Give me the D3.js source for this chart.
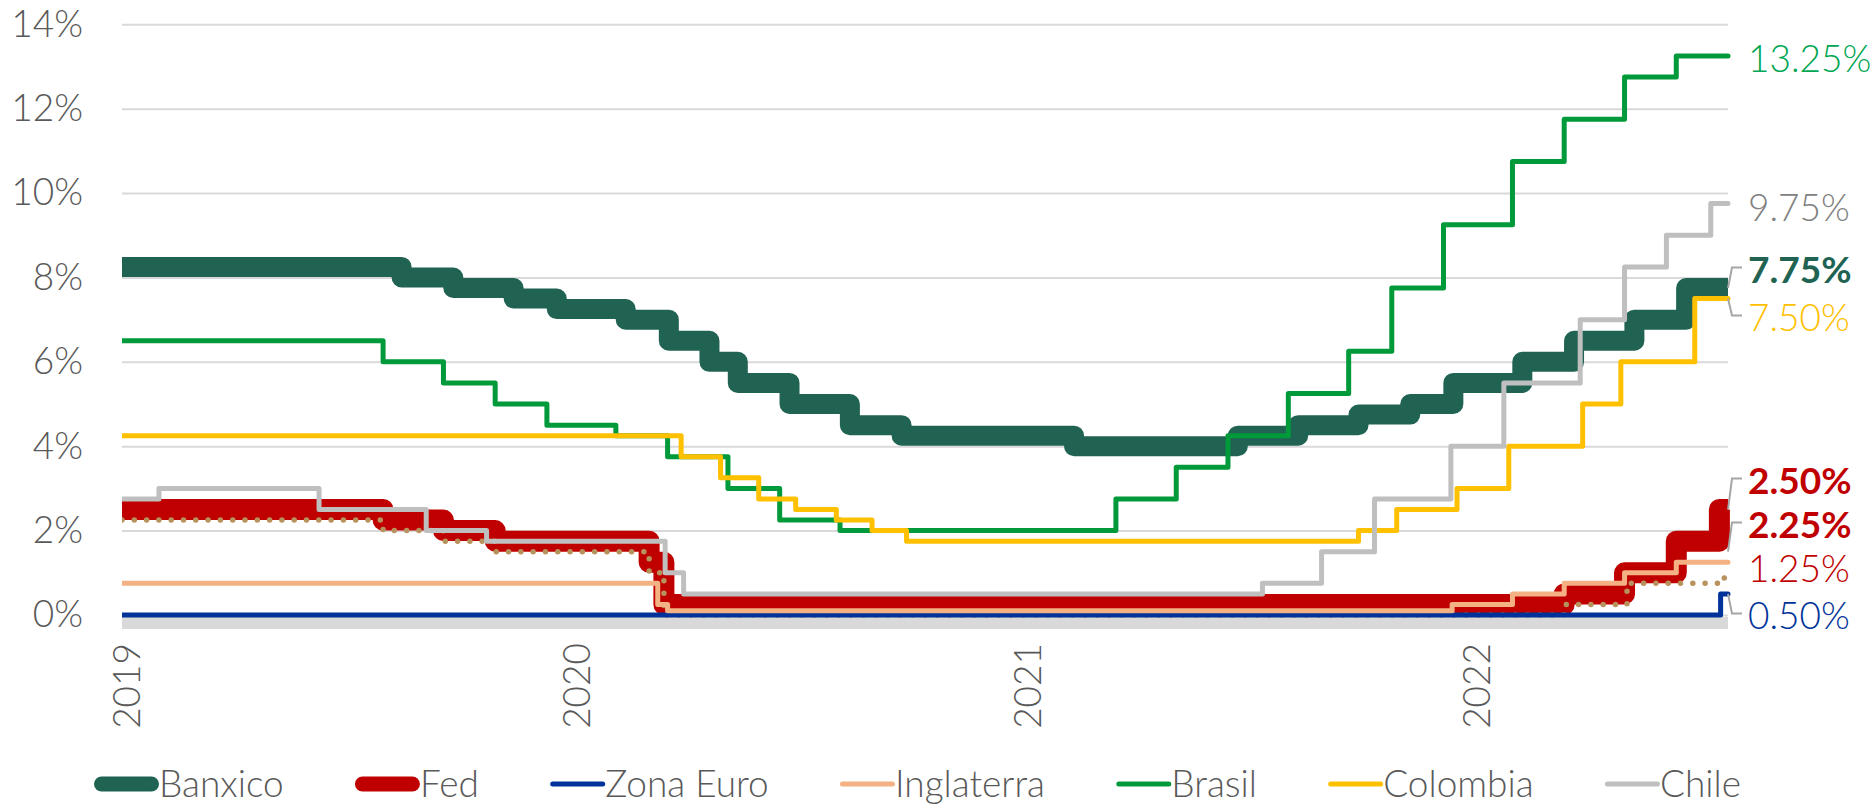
<!DOCTYPE html>
<html>
<head>
<meta charset="utf-8">
<script src="https://cdn.jsdelivr.net/npm/d3@7"></script>
<style>
  html, body { margin: 0; padding: 0; background: #fff; }
  svg { display: block; font-family: Lato, "Open Sans", sans-serif; }
</style>
</head>
<body>
<svg id="chart" width="1872" height="808"></svg>
<script>
// Tasas de politica monetaria (%), fecha de cada cambio
var startDate = "2019-01-01";
var endDate = "2022-07-28";
var yearTicks = ["2019-01-01", "2020-01-01", "2021-01-01", "2022-01-01"];
var yTicks = [0, 2, 4, 6, 8, 10, 12, 14];
var seriesNames = ["Banxico", "Fed", "Zona Euro", "Inglaterra", "Brasil", "Colombia", "Chile"];

var banxico = [
    ["2019-01-01", 8.25], ["2019-08-16", 8.00], ["2019-09-27", 7.75], ["2019-11-15", 7.50],
    ["2019-12-20", 7.25], ["2020-02-14", 7.00], ["2020-03-20", 6.50], ["2020-04-22", 6.00],
    ["2020-05-15", 5.50], ["2020-06-26", 5.00], ["2020-08-14", 4.50], ["2020-09-25", 4.25],
    ["2021-02-12", 4.00], ["2021-06-25", 4.25], ["2021-08-13", 4.50], ["2021-10-01", 4.75],
    ["2021-11-12", 5.00], ["2021-12-17", 5.50], ["2022-02-11", 6.00], ["2022-03-25", 6.50],
    ["2022-05-13", 7.00], ["2022-06-24", 7.75]
];
// Fed: limite superior (linea gruesa) y limite inferior (punteada)
var fedUpper = [
    ["2019-01-01", 2.50], ["2019-08-01", 2.25], ["2019-09-19", 2.00], ["2019-10-31", 1.75],
    ["2020-03-04", 1.25], ["2020-03-16", 0.25], ["2022-03-17", 0.50], ["2022-05-05", 1.00],
    ["2022-06-16", 1.75], ["2022-07-21", 2.50]
];
var fedLower = [
    ["2019-01-01", 2.25], ["2019-08-01", 2.00], ["2019-09-19", 1.75], ["2019-10-31", 1.50],
    ["2020-03-04", 1.00], ["2020-03-16", 0.00], ["2022-03-17", 0.25], ["2022-05-07", 0.75],
    ["2022-07-25", 1.00]
];
var zonaEuro = [["2019-01-01", 0.00], ["2022-07-22", 0.50]];
var inglaterra = [
    ["2019-01-01", 0.75], ["2020-03-11", 0.25], ["2020-03-19", 0.10], ["2021-12-16", 0.25],
    ["2022-02-03", 0.50], ["2022-03-17", 0.75], ["2022-05-05", 1.00], ["2022-06-16", 1.25]
];
var brasil = [
    ["2019-01-01", 6.50], ["2019-08-01", 6.00], ["2019-09-19", 5.50], ["2019-10-31", 5.00],
    ["2019-12-12", 4.50], ["2020-02-06", 4.25], ["2020-03-19", 3.75], ["2020-05-07", 3.00],
    ["2020-06-18", 2.25], ["2020-08-06", 2.00], ["2021-03-18", 2.75], ["2021-05-06", 3.50],
    ["2021-06-17", 4.25], ["2021-08-05", 5.25], ["2021-09-23", 6.25], ["2021-10-28", 7.75],
    ["2021-12-09", 9.25], ["2022-02-03", 10.75], ["2022-03-17", 11.75], ["2022-05-05", 12.75],
    ["2022-06-16", 13.25]
];
var colombia = [
    ["2019-01-01", 4.25], ["2020-03-30", 3.75], ["2020-05-01", 3.25], ["2020-06-01", 2.75],
    ["2020-07-01", 2.50], ["2020-08-03", 2.25], ["2020-09-01", 2.00], ["2020-09-29", 1.75],
    ["2021-10-01", 2.00], ["2021-11-01", 2.50], ["2021-12-20", 3.00], ["2022-01-31", 4.00],
    ["2022-04-01", 5.00], ["2022-05-02", 6.00], ["2022-07-01", 7.50]
];
var chile = [
    ["2019-01-01", 2.75], ["2019-01-31", 3.00], ["2019-06-10", 2.50], ["2019-09-05", 2.00],
    ["2019-10-24", 1.75], ["2020-03-17", 1.00], ["2020-04-01", 0.50], ["2021-07-15", 0.75],
    ["2021-09-01", 1.50], ["2021-10-14", 2.75], ["2021-12-15", 4.00], ["2022-01-27", 5.50],
    ["2022-03-30", 7.00], ["2022-05-05", 8.25], ["2022-06-08", 9.00], ["2022-07-14", 9.75]
];

// etiquetas al final de las lineas (value = punto al que apunta)
var endLabels = [
    { text: "13.25%", value: 13.25, shift: 3.5, color: "#00A651", bold: false, leader: false },
    { text: "9.75%", value: 9.75, shift: 4, color: "#808080", bold: false, leader: false },
    { text: "7.75%", value: 7.75, shift: -18, color: "#216353", bold: true, leader: true },
    { text: "7.50%", value: 7.50, shift: 19.5, color: "#FFC000", bold: false, leader: true },
    { text: "2.50%", value: 2.50, shift: -28.5, color: "#C00000", bold: true, leader: true },
    { text: "2.25%", value: 1.50, shift: -26.7, color: "#C00000", bold: true, leader: true },
    { text: "1.25%", value: 1.25, shift: 6.7, color: "#C00000", bold: false, leader: false },
    { text: "0.50%", value: 0.50, shift: 22, color: "#003399", bold: false, leader: true }
];

var parse = d3.timeParse("%Y-%m-%d");
var svg = d3.select("#chart");
var textColor = "#595959";
var fontSize = "37px";

var x = d3.scaleTime().domain([parse(startDate), parse(endDate)]).range([122, 1728]);
var y = d3.scaleLinear().domain([0, 14]).range([615, 24.3]);

// gridlines
svg.append("g")
    .attr("transform", "translate(" + x.range()[0] + ",0)")
    .call(d3.axisRight(y).tickValues(yTicks).tickSize(x.range()[1] - x.range()[0]).tickFormat(""))
    .call(function(g) { g.select(".domain").remove(); })
    .selectAll("line").attr("stroke", "#D9D9D9").attr("stroke-width", 2);

// y axis labels
svg.append("g")
    .attr("transform", "translate(86,0)")
    .call(d3.axisLeft(y).tickValues(yTicks).tickSize(0).tickPadding(3).tickFormat(function(d) { return d + "%"; }))
    .call(function(g) { g.select(".domain").remove(); })
    .selectAll("text")
    .attr("fill", textColor).style("font-size", fontSize).style("font-weight", 300)
    .style("font-family", "Lato, 'Open Sans', sans-serif");

// base band under 0%
svg.append("line")
    .attr("x1", x.range()[0]).attr("x2", x.range()[1])
    .attr("y1", y(0) + 8).attr("y2", y(0) + 8)
    .attr("stroke", "#D9D9D9").attr("stroke-width", 12);

// x axis labels
svg.append("g")
    .attr("transform", "translate(0,643)")
    .call(d3.axisBottom(x).tickValues(yearTicks.map(parse)).tickSize(0).tickFormat(d3.timeFormat("%Y")))
    .call(function(g) { g.select(".domain").remove(); })
    .selectAll("text")
    .attr("transform", "rotate(-90)")
    .attr("x", 0).attr("y", 5).attr("dy", "0.35em")
    .style("text-anchor", "end")
    .attr("fill", textColor).style("font-size", fontSize).style("font-weight", 300)
    .style("font-family", "Lato, 'Open Sans', sans-serif");

// lines
svg.append("clipPath").attr("id", "clip")
    .append("rect").attr("x", x.range()[0]).attr("y", 0).attr("width", 1872 - x.range()[0]).attr("height", 808);

function toPoints(arr) {
    var pts = arr.map(function(d) { return { date: parse(d[0]), value: d[1] }; });
    pts.push({ date: parse(endDate), value: arr[arr.length - 1][1] });
    return pts;
}

var line = d3.line()
    .x(function(d) { return x(d.date); })
    .y(function(d) { return y(d.value); })
    .curve(d3.curveStepAfter);

var series = [
    { name: "Banxico", data: banxico, color: "#216353", width: 20, cap: "butt" },
    { name: "Fed", data: fedUpper, color: "#C00000", width: 21, cap: "butt" },
    { name: null, data: fedLower, color: "#B8925C", width: 5.5, cap: "round", dash: "0 12.3" },
    { name: "Zona Euro", data: zonaEuro, color: "#003399", width: 5, cap: "round" },
    { name: "Inglaterra", data: inglaterra, color: "#F4B183", width: 5, cap: "round" },
    { name: "Brasil", data: brasil, color: "#009A3A", width: 5, cap: "round" },
    { name: "Colombia", data: colombia, color: "#FFC000", width: 5, cap: "round" },
    { name: "Chile", data: chile, color: "#BFBFBF", width: 5, cap: "round" }
];

var plot = svg.append("g").attr("clip-path", "url(#clip)");
series.forEach(function(s) {
    plot.append("path")
        .datum(toPoints(s.data))
        .attr("d", line)
        .attr("fill", "none")
        .attr("stroke", s.color)
        .attr("stroke-width", s.width)
        .attr("stroke-linejoin", "round")
        .attr("stroke-linecap", s.cap)
        .attr("stroke-dasharray", s.dash || null);
});

// end labels and leaders
var xr = x.range()[1];
var leader = d3.line();
endLabels.forEach(function(l) {
    var ly = y(l.value) + l.shift;
    if (l.leader) {
        svg.append("path")
            .attr("d", leader([[xr + 14, ly - 2.5], [xr + 4, ly - 2.5], [xr, y(l.value)]]))
            .attr("fill", "none").attr("stroke", "#A6A6A6").attr("stroke-width", 2);
    }
    svg.append("text")
        .attr("x", xr + 20).attr("y", ly).attr("dy", "0.35em")
        .attr("fill", l.color)
        .style("font-size", fontSize)
        .style("font-weight", l.bold ? 700 : 300)
        .text(l.text);
});

// legend, spread between the reference's outer edges
var legendStyle = {
    "Banxico": { color: "#216353", width: 15 },
    "Fed": { color: "#C00000", width: 15 },
    "Zona Euro": { color: "#003399", width: 5 },
    "Inglaterra": { color: "#F4B183", width: 5 },
    "Brasil": { color: "#009A3A", width: 5 },
    "Colombia": { color: "#FFC000", width: 5 },
    "Chile": { color: "#BFBFBF", width: 5 }
};
var legendLeft = 94, legendRight = 1741, legendY = 784, swatchLen = 50;
var legend = svg.append("g");
var items = seriesNames.map(function(name) {
    var st = legendStyle[name];
    var g = legend.append("g");
    g.append("line")
        .attr("x1", st.width / 2).attr("x2", st.width / 2 + swatchLen)
        .attr("y1", legendY).attr("y2", legendY)
        .attr("stroke", st.color).attr("stroke-width", st.width)
        .attr("stroke-linecap", "round");
    var t = g.append("text")
        .attr("x", st.width + swatchLen).attr("y", legendY).attr("dy", "0.35em")
        .attr("fill", textColor)
        .style("font-size", fontSize).style("font-weight", 300)
        .text(name);
    return { g: g, w: st.width + swatchLen + t.node().getComputedTextLength() };
});
var totalW = d3.sum(items, function(d) { return d.w; });
var gap = (legendRight - legendLeft - totalW) / (items.length - 1);
var cursor = legendLeft;
items.forEach(function(it) {
    it.g.attr("transform", "translate(" + cursor + ",0)");
    cursor += it.w + gap;
});
</script>
</body>
</html>
